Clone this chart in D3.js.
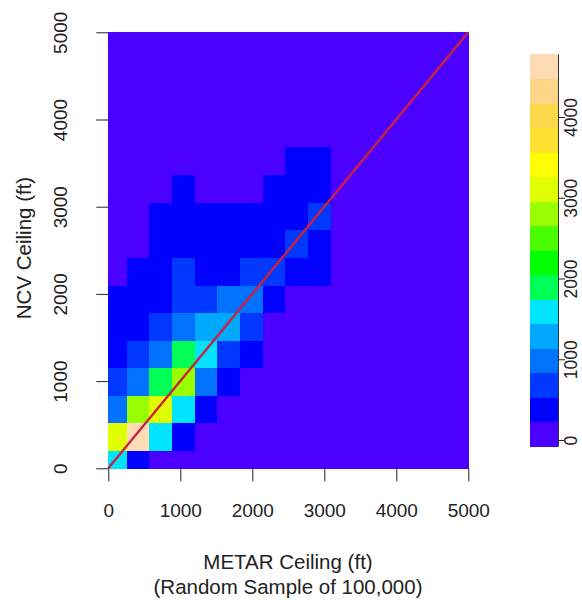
<!DOCTYPE html>
<html>
<head>
<meta charset="utf-8">
<script src="https://cdn.jsdelivr.net/npm/d3@7"></script>
<style>
body { margin: 0; background: #fff; }
text { font-family: "Liberation Sans", Arial, sans-serif; fill: #222; }
</style>
</head>
<body>
<svg id="chart" width="582" height="600"></svg>
<script>
// bin edges (ft) of the 2d histogram
var xBreaks = [0, 254, 569, 884, 1199, 1514, 1829, 2144, 2459, 2774, 3089, 3404, 3719, 4034, 4349, 4664, 4979, 5000];
var yBreaks = [0, 203, 520, 836, 1153, 1469, 1786, 2102, 2419, 2735, 3052, 3368, 3685, 4001, 4318, 4634, 4951, 5000];

// counts per cell, one row per NCV bin (bottom up), one value per METAR bin; missing = 0
var counts = [
  [1620, 420],
  [3120, 4700, 1560, 380],
  [1010, 2810, 3050, 1590, 350],
  [700, 990, 1880, 2760, 1050, 410],
  [430, 690, 960, 1920, 1610, 650, 360],
  [390, 450, 640, 1000, 1290, 1250, 620],
  [370, 400, 310, 600, 560, 900, 870, 300],
  [0, 330, 380, 590, 420, 460, 640, 700, 390, 340],
  [0, 0, 300, 350, 330, 370, 410, 360, 610, 320],
  [0, 0, 280, 310, 290, 300, 340, 320, 380, 620],
  [0, 0, 0, 260, 0, 0, 0, 270, 300, 290],
  [0, 0, 0, 0, 0, 0, 0, 0, 250, 240]
];

var palette = ["#4b00ff", "#0000ff", "#0038ff", "#0072ff", "#00a8ff", "#00e4ff", "#00ff55", "#00ff00",
               "#4cff00", "#99ff00", "#e0ff00", "#ffff00", "#ffe030", "#ffd84a", "#ffd38a", "#ffdcb4"];
var zRange = [-74, 4780];
var axisTicks = [0, 1000, 2000, 3000, 4000, 5000];
var legendTicks = [0, 1000, 2000, 3000, 4000];
var diagonal = [0, 5000];

var svg = d3.select("#chart");

var x = d3.scaleLinear().domain([0, 5000]).range([108.3, 468.3]);
var y = d3.scaleLinear().domain([0, 5000]).range([468.3, 32.3]);
var color = d3.scaleQuantize().domain(zRange).range(palette);

// build the cell list
var cells = [];
for (var i = 0; i < yBreaks.length - 1; i++) {
  for (var j = 0; j < xBreaks.length - 1; j++) {
    var v = (counts[i] && counts[i][j]) || 0;
    cells.push({x0: xBreaks[j], x1: xBreaks[j + 1], y0: yBreaks[i], y1: yBreaks[i + 1], n: v});
  }
}

svg.append("g")
  .attr("shape-rendering", "crispEdges")
  .selectAll("rect")
  .data(cells)
  .enter().append("rect")
  .attr("x", function(d) { return x(d.x0); })
  .attr("y", function(d) { return y(d.y1); })
  .attr("width", function(d) { return x(d.x1) - x(d.x0) + 0.5; })
  .attr("height", function(d) { return y(d.y0) - y(d.y1) + 0.5; })
  .attr("fill", function(d) { return color(d.n); });

// 1:1 line
svg.append("line")
  .attr("x1", x(diagonal[0])).attr("y1", y(diagonal[0]))
  .attr("x2", x(diagonal[1])).attr("y2", y(diagonal[1]))
  .attr("stroke", "#cc2040")
  .attr("stroke-width", 2.4);

// x axis
var gx = svg.append("g")
  .attr("transform", "translate(0,468.3)")
  .call(d3.axisBottom(x).tickValues(axisTicks).tickSize(13).tickPadding(22).tickFormat(d3.format("d")));
gx.select(".domain").remove();
gx.selectAll(".tick line").attr("stroke", "#222");
gx.selectAll(".tick text").attr("font-size", "19px").attr("font-family", null);

// y axis, labels turned like R does
var gy = svg.append("g")
  .attr("transform", "translate(108.3,0)")
  .call(d3.axisLeft(y).tickValues(axisTicks).tickSize(12).tickFormat(d3.format("d")));
gy.select(".domain").remove();
gy.selectAll(".tick line").attr("stroke", "#222");
gy.selectAll(".tick text")
  .attr("font-size", "19px").attr("font-family", null)
  .attr("transform", "rotate(-90)")
  .attr("x", 0).attr("y", -41.3).attr("dy", null)
  .attr("text-anchor", "middle");

// axis titles
svg.append("text")
  .attr("transform", "translate(31,248) rotate(-90)")
  .attr("text-anchor", "middle")
  .attr("font-size", "20.5px")
  .text("NCV Ceiling (ft)");

svg.append("text")
  .attr("x", 288).attr("y", 569)
  .attr("text-anchor", "middle")
  .attr("font-size", "20.5px")
  .text("METAR Ceiling (ft)");

svg.append("text")
  .attr("x", 288).attr("y", 594)
  .attr("text-anchor", "middle")
  .attr("font-size", "20.5px")
  .text("(Random Sample of 100,000)");

// colour legend
var ly = d3.scaleLinear().domain(zRange).range([446, 54]);
var step = (zRange[1] - zRange[0]) / palette.length;

svg.append("g")
  .attr("shape-rendering", "crispEdges")
  .selectAll("rect")
  .data(palette)
  .enter().append("rect")
  .attr("x", 530)
  .attr("width", 28)
  .attr("y", function(d, k) { return ly(zRange[0] + (k + 1) * step); })
  .attr("height", function(d, k) { return ly(zRange[0] + k * step) - ly(zRange[0] + (k + 1) * step) + 0.5; })
  .attr("fill", function(d) { return d; });

var gl = svg.append("g")
  .attr("transform", "translate(558,0)")
  .call(d3.axisRight(ly).tickValues(legendTicks).tickSize(7).tickSizeOuter(0).tickFormat(d3.format("d")));
gl.select(".domain").attr("stroke", "#333");
gl.selectAll(".tick line").attr("stroke", "#222");
gl.selectAll(".tick text")
  .attr("font-size", "17.5px").attr("font-family", null)
  .attr("transform", "rotate(-90)")
  .attr("x", 0).attr("y", 18.5).attr("dy", null)
  .attr("text-anchor", "middle");
</script>
</body>
</html>
